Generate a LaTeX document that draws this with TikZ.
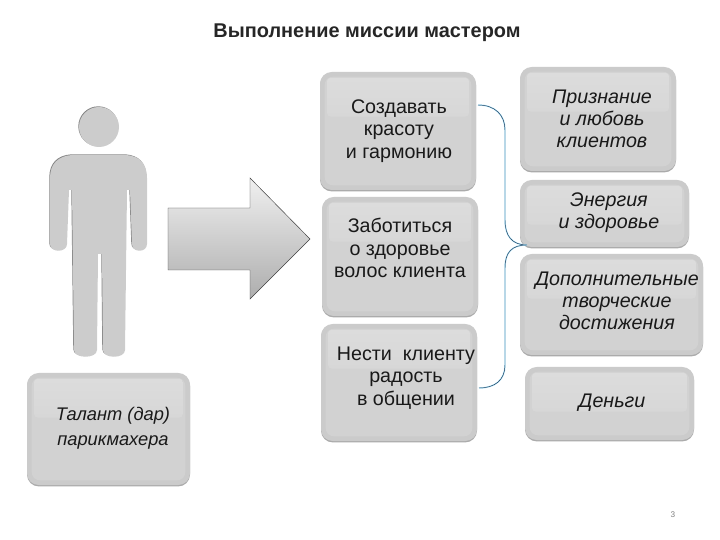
\documentclass[tikz,border=0pt]{standalone}
\usepackage{fontspec}
\setmainfont{Liberation Sans}
\usetikzlibrary{fit}
\definecolor{boxgray}{HTML}{D2D2D2}
\definecolor{boxrim}{HTML}{CBCBCB}
\definecolor{boxedge}{HTML}{ABABAB}
\definecolor{boxgloss}{HTML}{DCDCDC}
\definecolor{figuregray}{HTML}{CCCCCC}
\definecolor{figureedge}{HTML}{858585}
\definecolor{bracenavy}{HTML}{1F3A5A}
\tikzset{
    glossbox/.style={fill=boxrim, inner sep=0pt, rounded corners=10pt,
        preaction={fill=boxedge, transform canvas={yshift=-1.2pt}},
        path picture={
            \fill[boxgray, rounded corners=7pt] ([shift={(4pt,4pt)}]path picture bounding box.south west) rectangle ([shift={(-4pt,-4pt)}]path picture bounding box.north east);
            \shade[top color=boxgloss, bottom color=boxgray!50!boxgloss, rounded corners=3pt] ([shift={(6pt,-5pt)}]path picture bounding box.north west) rectangle ([shift={(-6pt,-38pt)}]path picture bounding box.north east);
        }},
    boxtext/.style={align=center, font=\fontsize{16.8}{19}\selectfont, text=black!90},
    gaintext/.style={boxtext, font=\fontsize{16.8}{19}\selectfont\itshape}
}
\begin{document}
\begin{tikzpicture}[x=0.03cm,y=-0.03cm]
    \useasboundingbox (0,0) rectangle (720,540);
    \node[font=\fontsize{17}{20}\selectfont\bfseries, text=black!85] (title) at (367,33) {Выполнение миссии мастером};

    % figure
    \filldraw[fill=figuregray, draw=none, preaction={fill=figureedge, transform canvas={shift={(-0.6pt,0.6pt)}}}] (99,127) circle (20);
    \fill[figuregray, preaction={fill=figureedge, transform canvas={shift={(-0.6pt,0.6pt)}}}] (72,155) -- (126,155) .. controls (140,156) and (147,164) .. (147,178) -- (147,244) .. controls (147,253) and (132,253) .. (132,244) -- (130,190) -- (127,190) -- (125,350) .. controls (125,359) and (103,359) .. (103,350) -- (102,254) -- (98,254) -- (97,350) .. controls (97,359) and (74,359) .. (74,350) -- (72,190) -- (69,190) -- (67,244) .. controls (67,253) and (50,253) .. (50,244) -- (50,178) .. controls (50,164) and (58,156) .. (72,155) -- cycle;

    % big arrow
    \draw[black!75, thin, top color=black!6, bottom color=black!32] (168,208) -- (250,208) -- (250,178) -- (310,239) -- (250,299) -- (250,270) -- (168,270) -- cycle;

    % boxes
    \node[glossbox, fit={(27,373) (190,485)}] (talent) {};
    \node[glossbox, fit={(320,72) (476,190)}] (beauty) {};
    \node[glossbox, fit={(322,197) (478,316)}] (care) {};
    \node[glossbox, fit={(321,324) (477,441)}] (joy) {};
    \node[glossbox, fit={(520,67) (676,171)}] (love) {};
    \node[glossbox, fit={(520,180) (689,247)}] (energy) {};
    \node[glossbox, fit={(520,254) (703,355)}] (extra) {};
    \node[glossbox, fit={(525,367) (694,440)}] (money) {};

    \node[gaintext, font=\fontsize{15.6}{21}\selectfont\itshape] (talenttext) at (113,428) {Талант (дар)\\парикмахера};
    \node[boxtext] (beautytext) at (399,131) {Создавать\\красоту\\и гармонию};
    \node[boxtext] (caretext) at (400,248) {Заботиться\\о здоровье\\волос клиента};
    \node[boxtext] (joytext) at (406,378) {Нести \ клиенту\\радость\\в общении};
    \node[gaintext] (lovetext) at (602,119) {Признание\\и любовь\\клиентов};
    \node[gaintext] (energytext) at (609,213) {Энергия\\и здоровье};
    \node[gaintext] (extratext) at (617,301) {Дополнительные\\творческие\\достижения};
    \node[gaintext] (moneytext) at (612,403) {Деньги};

    % brace
    \coordinate (bracetop) at (478,105);
    \coordinate (bracetip) at (527,245);
    \coordinate (bracebottom) at (479,388);
    \draw[bracenavy, thin, preaction={draw=cyan!30, line width=1.2pt}] (bracetop) .. controls (495,105) and (505,115) .. (505,130) -- (505,220) .. controls (505,236) and (512,245) .. (bracetip) .. controls (512,245) and (505,252) .. (505,268) -- (505,365) .. controls (505,380) and (495,388) .. (bracebottom);

    \node[font=\fontsize{7}{8}\selectfont, text=black!50] (pagenum) at (673,515) {3};
\end{tikzpicture}
\end{document}
